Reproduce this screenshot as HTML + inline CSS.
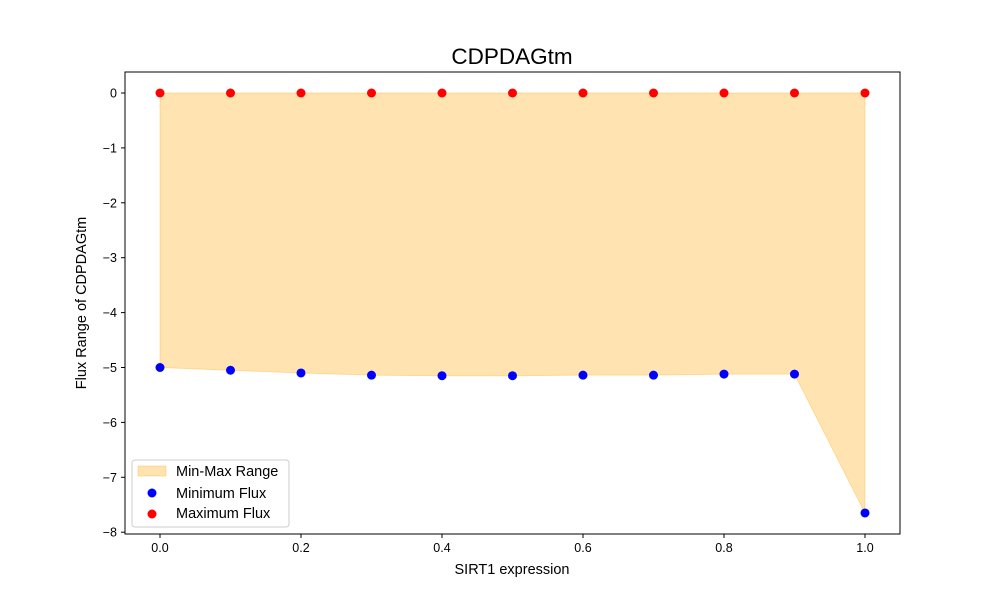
<!DOCTYPE html>
<html><head><meta charset="utf-8"><style>
body{margin:0;background:#fff;font-family:"Liberation Sans","DejaVu Sans",sans-serif;}
</style></head><body>
<svg id="c" width="1000" height="600" xmlns="http://www.w3.org/2000/svg"></svg>
<script>
const xs=[0.0,0.1,0.2,0.3,0.4,0.5,0.6,0.7,0.8,0.9,1.0];
const minFlux=[-5.0,-5.05,-5.10,-5.14,-5.15,-5.15,-5.14,-5.14,-5.12,-5.12,-7.65];
const maxFlux=[0,0,0,0,0,0,0,0,0,0,0];
const xTicks=[0.0,0.2,0.4,0.6,0.8,1.0];
const yTicks=[0,-1,-2,-3,-4,-5,-6,-7,-8];
const L=125,R=900,T=72,B=534;
const X=v=>160+v*705;
const Y=v=>93-v*54.9;
const svg=document.getElementById('c');
const NS='http://www.w3.org/2000/svg';
function mk(t,a,p){const e=document.createElementNS(NS,t);for(const k in a)e.setAttribute(k,a[k]);(p||svg).appendChild(e);return e;}
let d='M'+xs.map((x,i)=>X(x)+','+Y(maxFlux[i])).join('L');
for(let i=xs.length-1;i>=0;i--)d+='L'+X(xs[i])+','+Y(minFlux[i]);
const area=mk('path',{d:d+'Z',fill:'#ffa500','fill-opacity':0.3,stroke:'#ffa500','stroke-opacity':0.3});


xs.forEach((x,i)=>{
 const a=mk('circle',{cx:X(x),cy:Y(minFlux[i]),r:4.5,fill:'#0000ff'});
 
 
 const b=mk('circle',{cx:X(x),cy:Y(maxFlux[i]),r:4.5,fill:'#ff0000'});
 
 
});
mk('rect',{x:L,y:T,width:R-L,height:B-T,fill:'none',stroke:'#000','stroke-width':1});
xTicks.forEach(v=>{
 mk('line',{x1:X(v),x2:X(v),y1:B,y2:B+4,stroke:'#000'});
 const t=mk('text',{x:X(v),y:B+18,'text-anchor':'middle','font-size':12.5});t.textContent=v.toFixed(1);
 
 
});
yTicks.forEach(v=>{
 mk('line',{x1:L-4,x2:L,y1:Y(v),y2:Y(v),stroke:'#000'});
 const t=mk('text',{x:L-8,y:Y(v)+4.5,'text-anchor':'end','font-size':12.5});t.textContent=v<0?'\u2212'+(-v):String(v);
 
 
});
let t=mk('text',{x:512,y:64,'text-anchor':'middle','font-size':22.5});t.textContent='CDPDAGtm';

t=mk('text',{x:512,y:574,'text-anchor':'middle','font-size':14.5});t.textContent='SIRT1 expression';

t=mk('text',{x:86,y:303,'text-anchor':'middle','font-size':14.5,transform:'rotate(-90 86 303)'});t.textContent='Flux Range of CDPDAGtm';

const g=mk('g',{});

mk('rect',{x:132,y:460,width:157,height:67,rx:3,fill:'#fff','fill-opacity':0.8,stroke:'#ccc'},g);
mk('rect',{x:138,y:466,width:28,height:10,fill:'#ffa500','fill-opacity':0.3,stroke:'#ffa500','stroke-opacity':0.3},g);
mk('circle',{cx:152,cy:493,r:4.5,fill:'#0000ff'},g);
mk('circle',{cx:152,cy:514,r:4.5,fill:'#ff0000'},g);
[['Min-Max Range',476],['Minimum Flux',498],['Maximum Flux',518]].forEach(([s,y])=>{const e=mk('text',{x:176,y:y,'font-size':14.5},g);e.textContent=s;});
</script>
</body></html>
